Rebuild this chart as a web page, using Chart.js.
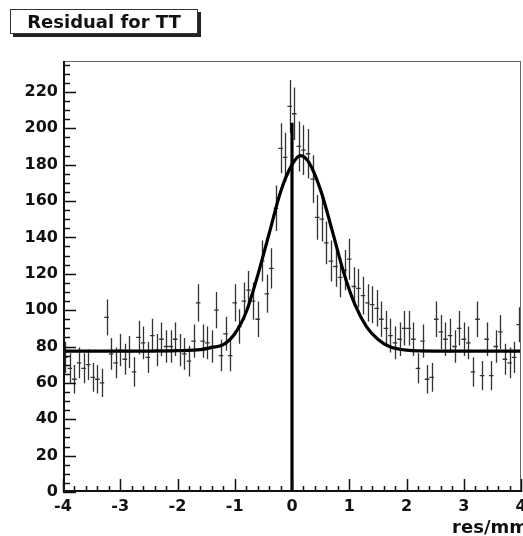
<!DOCTYPE html>
<html>
<head>
<meta charset="utf-8">
<script src="https://cdn.jsdelivr.net/npm/chart.js@4.4.1/dist/chart.umd.min.js"></script>
<style>
  html, body { margin:0; padding:0; background:#fff; }
  #wrap { position:relative; width:523px; height:536px; }
  #title {
    position:absolute; left:10px; top:9px; width:186px; height:23px;
    border:1px solid #333; box-shadow:3px 3px 0 #222; background:#fff;
    font:bold 18px "DejaVu Sans", sans-serif; color:#111;
    text-align:center; line-height:23px;
  }
</style>
</head>
<body>
<div id="wrap">
  <canvas id="residualChart" width="523" height="536"></canvas>
  <div id="title">Residual for TT</div>
</div>
<script>
// histogram binning
const xLow = -4;
const binWidth = 0.08;

// bin contents
const counts = [
    74, 68, 62, 71, 68, 70, 63, 62, 60, 96,
    76, 71, 78, 73, 77, 66, 85, 82, 74, 86,
    78, 84, 80, 80, 84, 78, 76, 72, 83, 104,
    83, 82, 80, 100, 75, 87, 75, 104, 91, 105,
    111, 105, 95, 127, 109, 123, 156, 189, 184, 212,
    208, 190, 188, 186, 172, 151, 150, 137, 127, 124,
    118, 122, 128, 113, 112, 108, 104, 103, 101, 95,
    90, 86, 82, 84, 90, 90, 84, 68, 83, 62,
    63, 95, 88, 84, 86, 80, 90, 84, 82, 66,
    95, 64, 84, 64, 80, 88, 73, 71, 74, 92
];

// fit curve
const fitX = [-4, -2.5, -2.0, -1.6, -1.4, -1.2, -1.0, -0.8, -0.6, -0.4, -0.2, 0.0, 0.15, 0.3, 0.5, 0.7, 0.9, 1.1, 1.3, 1.5, 1.7, 2.0, 2.5, 4];
const fitY = [77.5, 77.5, 77.7, 78.3, 79.5, 81, 87, 99, 119, 142, 165, 180, 185, 181, 166, 144, 121, 103, 91, 84, 80, 78, 77.5, 77.5];

// vertical marker at zero
const markerX = [0, 0];
const markerY = [0, 203];

// axis ranges and ticks
const xMin = -4, xMax = 4, xStep = 1, xMinor = 0.2;
const yMin = 0, yMax = 237, yStep = 20, yMinor = 5;

Chart.defaults.font.family = '"DejaVu Sans", sans-serif';
Chart.defaults.color = '#111';

const errorBars = {
    id:'errorBars',
    beforeDatasetsDraw(chart){
        const ctx = chart.ctx;
        const xs = chart.scales.x;
        const ys = chart.scales.y;
        const a = chart.chartArea;
        ctx.save();
        ctx.beginPath();
        ctx.rect(a.left, a.top, a.right - a.left, a.bottom - a.top);
        ctx.clip();
        ctx.strokeStyle = '#333';
        ctx.lineWidth = 1.3;
        counts.forEach((n, i) => {
            const xc = xLow + (i + 0.5) * binWidth;
            const e = Math.sqrt(n);
            const px = Math.round(xs.getPixelForValue(xc)) + 0.5;
            const py = ys.getPixelForValue(n);
            ctx.beginPath();
            ctx.moveTo(px, ys.getPixelForValue(n - e));
            ctx.lineTo(px, ys.getPixelForValue(n + e));
            ctx.moveTo(xs.getPixelForValue(xc - binWidth / 2), py);
            ctx.lineTo(xs.getPixelForValue(xc + binWidth / 2), py);
            ctx.stroke();
        });
        ctx.restore();
    }
};

const frameTicks = {
    id:'frameTicks',
    afterDraw(chart){
        const ctx = chart.ctx;
        const xs = chart.scales.x;
        const ys = chart.scales.y;
        const a = chart.chartArea;
        ctx.save();

        ctx.strokeStyle = '#666';
        ctx.lineWidth = 1;
        ctx.strokeRect(a.left + 0.5, a.top + 0.5, a.right - a.left - 1, a.bottom - a.top - 1);

        ctx.strokeStyle = '#111';
        ctx.lineWidth = 1.5;
        ctx.beginPath();
        for(let v = yMin; v <= yMax; v += yMinor){
            const py = Math.round(ys.getPixelForValue(v)) + 0.5;
            const len = (v % yStep === 0) ? 13 : 7;
            ctx.moveTo(a.left, py);
            ctx.lineTo(a.left + len, py);
        }
        for(let k = 0; k <= Math.round((xMax - xMin) / xMinor); k++){
            const v = xMin + k * xMinor;
            const px = Math.round(xs.getPixelForValue(v)) + 0.5;
            const len = (k % 5 === 0) ? 13 : 6;
            ctx.moveTo(px, a.bottom);
            ctx.lineTo(px, a.bottom - len);
        }
        ctx.stroke();

        ctx.lineWidth = 2;
        ctx.beginPath();
        ctx.moveTo(a.left + 1, a.top);
        ctx.lineTo(a.left + 1, a.bottom - 1);
        ctx.lineTo(a.right, a.bottom - 1);
        ctx.stroke();

        ctx.fillStyle = '#111';
        ctx.font = 'bold 18px "DejaVu Sans", sans-serif';
        ctx.textAlign = 'right';
        ctx.textBaseline = 'alphabetic';
        ctx.fillText('res/mm', 528, 533);
        ctx.restore();
    }
};

new Chart(document.getElementById('residualChart'), {
    type:'scatter',
    data:{
        datasets:[
            {
                type:'line',
                data:fitX.map((x, i) => ({x:x, y:fitY[i]})),
                borderColor:'#000',
                borderWidth:3.2,
                pointRadius:0,
                cubicInterpolationMode:'monotone',
                fill:false
            },
            {
                type:'line',
                data:markerX.map((x, i) => ({x:x, y:markerY[i]})),
                borderColor:'#000',
                borderWidth:3.2,
                pointRadius:0,
                fill:false
            }
        ]
    },
    options:{
        responsive:false,
        animation:false,
        events:[],
        layout:{ padding:{ top:61, right:2, left:0, bottom:0 } },
        plugins:{ legend:{display:false}, tooltip:{enabled:false}, title:{display:false} },
        scales:{
            x:{
                type:'linear',
                min:xMin, max:xMax,
                grid:{display:false, drawTicks:false},
                border:{display:false},
                ticks:{
                    stepSize:xStep, autoSkip:false, maxRotation:0,
                    includeBounds:false, padding:5,
                    font:{size:16, weight:'bold'}
                },
                afterFit(s){
                    s.height = 44;
                    s.paddingLeft = 0;
                    s.paddingRight = 0;
                }
            },
            y:{
                type:'linear',
                min:yMin, max:yMax,
                grid:{display:false, drawTicks:false},
                border:{display:false},
                ticks:{
                    stepSize:yStep, autoSkip:false,
                    includeBounds:false, padding:5,
                    font:{size:16, weight:'bold'}
                },
                afterFit(s){
                    s.width = 63;
                    s.paddingTop = 0;
                    s.paddingBottom = 0;
                }
            }
        }
    },
    plugins:[errorBars, frameTicks]
});
</script>
</body>
</html>
